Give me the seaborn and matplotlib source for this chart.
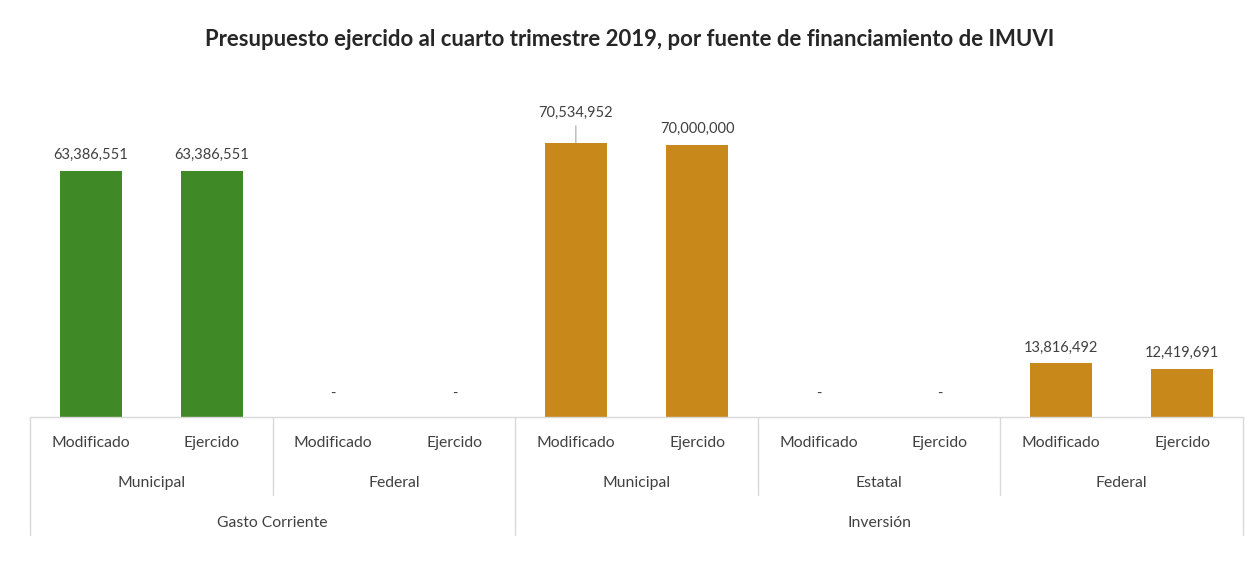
"""
Presupuesto ejercido al cuarto trimestre 2019 (IMUVI), bar chart with
a multi-level category axis like the Excel original.
Output: out.png
"""
import pandas as pd
import matplotlib.pyplot as plt
import seaborn as sns
from matplotlib.lines import Line2D

# --- Data ---
capitulos = ["Gasto Corriente", "Inversión"]
fuentes = [["Municipal", "Federal"], ["Municipal", "Estatal", "Federal"]]
momentos = ["Modificado", "Ejercido"]
montos = [63386551, 63386551, 0, 0,
          70534952, 70000000, 0, 0, 13816492, 12419691]

rows = []
for cap, fts in zip(capitulos, fuentes):
    for f in fts:
        for m in momentos:
            rows.append((cap, f, m))
df = pd.DataFrame(rows, columns=["Capitulo", "Fuente", "Momento"])
df["Monto"] = montos
df["Clave"] = [f"{c}|{f}|{m}" for c, f, m in rows]

sns.set_theme(style="white")
plt.rcParams["font.family"] = ["Lato", "DejaVu Sans"]

TXT = "#404040"
GRID = "#d9d9d9"

fig = plt.figure(figsize=(12.59, 5.65), dpi=100)
ax = fig.add_axes([30 / 1259, (565 - 417) / 565, 1213 / 1259, 327 / 565])

sns.barplot(
    data=df, x="Clave", y="Monto", hue="Capitulo",
    palette={"Gasto Corriente": "#3f8a26", "Inversión": "#c8891a"},
    order=df["Clave"], width=0.51, legend=False, ax=ax,
    saturation=1, edgecolor="none", linewidth=0,
)

ax.set_xlim(-0.5, len(df) - 0.5)
ax.set_ylim(0, 84.2e6)
ax.set_xticks([])
ax.set_yticks([])
ax.set_xlabel("")
ax.set_ylabel("")
sns.despine(ax=ax, left=True, top=True, right=True)
ax.spines["bottom"].set_color(GRID)
ax.spines["bottom"].set_linewidth(1)

# data labels
for i, v in enumerate(df["Monto"]):
    if v == 0:
        ax.text(i, 4.2e6, "-", ha="center", va="bottom", fontsize=10.5, color=TXT)
    elif i == 4:
        ax.annotate(f"{v:,.0f}", xy=(i, v), xytext=(i, v + 6.0e6),
                    ha="center", va="bottom", fontsize=10.5, color=TXT,
                    arrowprops=dict(arrowstyle="-", color="#a6a6a6", lw=0.8,
                                    shrinkA=2, shrinkB=0))
    else:
        ax.text(i, v + 2.3e6, f"{v:,.0f}", ha="center", va="bottom",
                fontsize=10.5, color=TXT)

# multi-level category axis
tr = ax.get_xaxis_transform()
y1, y2, y3 = -0.079, -0.202, -0.324
for i, m in enumerate(df["Momento"]):
    ax.text(i, y1, m, transform=tr, ha="center", va="center",
            fontsize=11.3, color=TXT)

pos = 0
edges = [-0.5]
for cap, fts in zip(capitulos, fuentes):
    start = pos
    for f in fts:
        ax.text(pos + 0.5, y2, f, transform=tr, ha="center", va="center",
                fontsize=11.3, color=TXT)
        pos += 2
        edges.append(pos - 0.5)
    ax.text((start + pos - 1) / 2, y3, cap, transform=tr, ha="center",
            va="center", fontsize=11.3, color=TXT)

outer = {-0.5, 3.5, len(df) - 0.5}
for e in edges:
    low = -0.361 if e in outer else -0.2385
    ax.add_line(Line2D([e, e], [0, low], transform=tr, color=GRID,
                       lw=1, clip_on=False))

fig.suptitle("Presupuesto ejercido al cuarto trimestre 2019, por fuente de financiamiento de IMUVI",
             x=0.5, y=1 - 40 / 565, va="center", fontsize=15.9, fontweight="bold",
             color="#262626")

fig.savefig("out.png", dpi=100, facecolor="white")
plt.close(fig)
